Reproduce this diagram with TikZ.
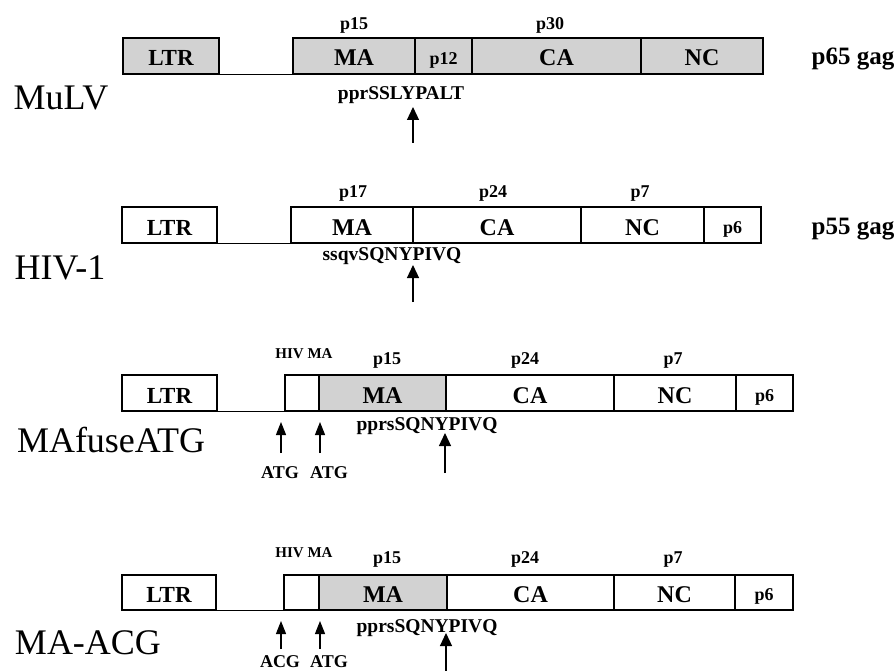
\documentclass[tikz,border=0pt]{standalone}
\usepackage{fontspec}
\setmainfont{Liberation Serif}
\usetikzlibrary{arrows.meta}
\tikzset{
  seg/.style={draw=black, line width=1.3pt, inner sep=0pt, minimum height=36pt, text height=20pt, text depth=0pt, font=\bfseries\fontsize{24}{24}\selectfont},
  gseg/.style={seg, fill=gray!35},
  ltrtxt/.style={font=\bfseries\fontsize{23}{23}\selectfont},
  smalltxt/.style={text height=16.5pt, font=\bfseries\fontsize{18}{18}\selectfont},
  lbl/.style={inner sep=0pt, anchor=base},
  ptxt/.style={lbl, font=\bfseries\fontsize{18}{18}\selectfont},
  seqtxt/.style={lbl, font=\bfseries\fontsize{19.5}{19.5}\selectfont},
  atgtxt/.style={lbl, font=\bfseries\fontsize{18}{18}\selectfont},
  gagtxt/.style={lbl, font=\bfseries\fontsize{25}{25}\selectfont},
  hivtxt/.style={lbl, font=\bfseries\fontsize{15}{15}\selectfont},
  bigtxt/.style={lbl, font=\fontsize{36}{36}\selectfont},
  conn/.style={line width=1.3pt},
  cut/.style={line width=1.2pt, -{Triangle[length=13pt,width=12pt]}},
  atg/.style={line width=1.1pt, -{Triangle[length=13pt,width=10pt]}},
}
\begin{document}
\begin{tikzpicture}[x=1pt,y=-1pt]
\useasboundingbox (0,0) rectangle (896,671);

% ---------------- Row 1: MuLV
\node[gseg, minimum width=96pt, ltrtxt] (l1) at (171,56) {LTR};
\node[gseg, minimum width=122pt] (ma1) at (354,56) {MA};
\node[gseg, minimum width=57pt, smalltxt] (p121) at (443.5,56) {p12};
\node[gseg, minimum width=169pt] (ca1) at (556.5,56) {CA};
\node[gseg, minimum width=122pt] (nc1) at (702,56) {NC};
\draw[conn] (l1.south east) -- (ma1.south west);
\node[ptxt] (t15a) at (354,30) {p15};
\node[ptxt] (t30a) at (550,30) {p30};
\node[gagtxt] (gag1) at (853,65) {p65 gag};
\node[bigtxt] (n1) at (61,110) {MuLV};
\node[seqtxt] (s1) at (401,100) {pprSSLYPALT};
\coordinate (a1s) at (413,143);
\coordinate (a1e) at (413,107);
\draw[cut] (a1s) -- (a1e);

% ---------------- Row 2: HIV-1
\node[seg, minimum width=95pt, ltrtxt] (l2) at (169.5,225) {LTR};
\node[seg, minimum width=122pt] (ma2) at (352,225) {MA};
\node[seg, minimum width=168pt] (ca2) at (497,225) {CA};
\node[seg, minimum width=123pt] (nc2) at (642.5,225) {NC};
\node[seg, minimum width=57pt, smalltxt] (p62) at (732.5,225) {p6};
\draw[conn] (l2.south east) -- (ma2.south west);
\node[ptxt] (t17b) at (353,197.5) {p17};
\node[ptxt] (t24b) at (493,197) {p24};
\node[ptxt] (t7b) at (640,197) {p7};
\node[gagtxt] (gag2) at (853,234) {p55 gag};
\node[bigtxt] (n2) at (60,279) {HIV-1};
\node[seqtxt] (s2) at (392,260) {ssqvSQNYPIVQ};
\coordinate (a2s) at (413,302);
\coordinate (a2e) at (413,265);
\draw[cut] (a2s) -- (a2e);

% ---------------- Row 3: MAfuseATG
\node[seg, minimum width=95pt, ltrtxt] (l3) at (169.5,393) {LTR};
\node[seg, minimum width=34pt] (h3) at (302,393) {};
\node[gseg, minimum width=127pt] (ma3) at (382.5,393) {MA};
\node[seg, minimum width=168pt] (ca3) at (530,393) {CA};
\node[seg, minimum width=122pt] (nc3) at (675,393) {NC};
\node[seg, minimum width=57pt, smalltxt] (p63) at (764.5,393) {p6};
\draw[conn] (l3.south east) -- (h3.south west);
\node[hivtxt] (hl3) at (304,358) {HIV MA};
\node[ptxt] (t15c) at (387,364) {p15};
\node[ptxt] (t24c) at (525,364) {p24};
\node[ptxt] (t7c) at (673,364) {p7};
\node[bigtxt] (n3) at (111,452) {MAfuseATG};
\node[seqtxt] (s3) at (427,430) {pprsSQNYPIVQ};
\coordinate (a3s) at (445,473);
\coordinate (a3e) at (445,433);
\draw[cut] (a3s) -- (a3e);
\node[atgtxt] (g3a) at (280,478) {ATG};
\node[atgtxt] (g3b) at (329,478) {ATG};
\coordinate (b3s) at (281,453);
\coordinate (b3e) at (281,422);
\coordinate (c3s) at (320,453);
\coordinate (c3e) at (320,422);
\draw[atg] (b3s) -- (b3e);
\draw[atg] (c3s) -- (c3e);

% ---------------- Row 4: MA-ACG
\node[seg, minimum height=35pt, minimum width=94pt, ltrtxt] (l4) at (169,592.5) {LTR};
\node[seg, minimum height=35pt, minimum width=35pt] (h4) at (301.5,592.5) {};
\node[gseg, minimum height=35pt, minimum width=128pt] (ma4) at (383,592.5) {MA};
\node[seg, minimum height=35pt, minimum width=167pt] (ca4) at (530.5,592.5) {CA};
\node[seg, minimum height=35pt, minimum width=121pt] (nc4) at (674.5,592.5) {NC};
\node[seg, minimum height=35pt, minimum width=58pt, smalltxt] (p64) at (764,592.5) {p6};
\draw[conn] (l4.south east) -- (h4.south west);
\node[hivtxt] (hl4) at (304,557) {HIV MA};
\node[ptxt] (t15d) at (387,563) {p15};
\node[ptxt] (t24d) at (525,563) {p24};
\node[ptxt] (t7d) at (673,563) {p7};
\node[bigtxt] (n4) at (88,654) {MA-ACG};
\node[seqtxt] (s4) at (427,632) {pprsSQNYPIVQ};
\coordinate (a4s) at (446,672);
\coordinate (a4e) at (446,633);
\draw[cut] (a4s) -- (a4e);
\node[atgtxt] (g4a) at (280,667) {ACG};
\node[atgtxt] (g4b) at (329,667) {ATG};
\coordinate (b4s) at (281,649);
\coordinate (b4e) at (281,621);
\coordinate (c4s) at (320,649);
\coordinate (c4e) at (320,621);
\draw[atg] (b4s) -- (b4e);
\draw[atg] (c4s) -- (c4e);
\end{tikzpicture}
\end{document}
